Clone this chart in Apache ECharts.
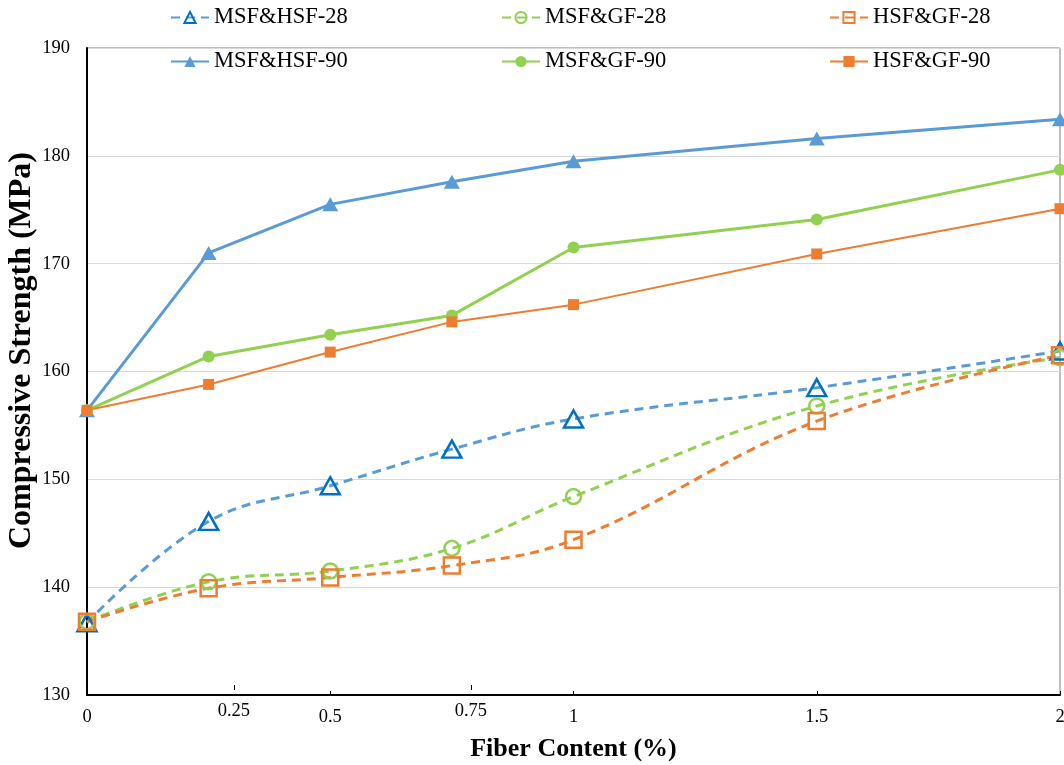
<!DOCTYPE html>
<html>
<head>
<meta charset="utf-8">
<script src="https://cdn.jsdelivr.net/npm/echarts@6/dist/echarts.min.js"></script>
<style>html,body{margin:0;padding:0;background:#fff}#c{width:1064px;height:765px}</style>
</head>
<body>
<div id="c"></div>
<script>
// ---- data ----
const fiberContent = [0, 0.25, 0.5, 0.75, 1, 1.5, 2];
const msfHsf28 = [136.7, 146.1, 149.4, 152.8, 155.6, 158.5, 161.9];
const msfGf28  = [136.8, 140.5, 141.5, 143.6, 148.4, 156.8, 161.3];
const hsfGf28  = [136.8, 139.9, 140.9, 142.0, 144.4, 155.4, 161.5];
const msfHsf90 = [156.4, 171.0, 175.5, 177.6, 179.5, 181.6, 183.4];
const msfGf90  = [156.4, 161.4, 163.4, 165.2, 171.5, 174.1, 178.7];
const hsfGf90  = [156.4, 158.8, 161.8, 164.6, 166.2, 170.9, 175.1];
const seriesNames = ['MSF&HSF-28', 'MSF&GF-28', 'HSF&GF-28', 'MSF&HSF-90', 'MSF&GF-90', 'HSF&GF-90'];
const extraTickLabels = ['0.25', '0.75'];

const FONT = '"Liberation Serif", "Times New Roman", serif';
const BLUE = '#5B9BD5', DBLUE = '#0070C0', GREEN = '#92D050', ORANGE = '#ED7D31';

function pts(arr) { return fiberContent.map((x, i) => [x, arr[i]]); }

function dashed(name, arr, color, borderColor, symbol, size) {
  return {
    name, type: 'line', data: pts(arr), smooth: 0.4,
    symbol, symbolSize: size,
    lineStyle: { color, width: 3, type: [9, 6] },
    itemStyle: { color: 'rgba(255,255,255,0)', borderColor, borderWidth: 2.5 },
    emphasis: { disabled: true }, z: 2
  };
}
function solid(name, arr, color, symbol, size, width) {
  return {
    name, type: 'line', data: pts(arr),
    symbol, symbolSize: size,
    lineStyle: { color, width },
    itemStyle: { color, borderWidth: 0 },
    emphasis: { disabled: true }, z: 3
  };
}

const series = [
  dashed(seriesNames[0], msfHsf28, BLUE, DBLUE, 'triangle', [19, 17]),
  dashed(seriesNames[1], msfGf28, GREEN, GREEN, 'circle', 15),
  dashed(seriesNames[2], hsfGf28, ORANGE, ORANGE, 'rect', 16),
  solid(seriesNames[3], msfHsf90, BLUE, 'triangle', [16, 14], 3),
  solid(seriesNames[4], msfGf90, GREEN, 'circle', 12, 3),
  solid(seriesNames[5], hsfGf90, ORANGE, 'rect', 11, 2)
];

const colLeft = [170, 501, 829];
const rowTop = [6, 50];
const legends = seriesNames.map((n, i) => ({
  data: [n], left: colLeft[i % 3], top: rowTop[Math.floor(i / 3)],
  padding: 0, itemWidth: 38, itemHeight: 14, selectedMode: false,
  textStyle: { fontFamily: FONT, fontSize: 22.5, color: '#000' }
}));

const chart = echarts.init(document.getElementById('c'));
chart.setOption({
  animation: false,
  backgroundColor: '#fff',
  legend: legends,
  grid: { left: 87, right: 4, top: 48, bottom: 70, outerBoundsMode: 'none', containLabel: false,
          show: true, borderColor: '#7F7F7F', borderWidth: 1 },
  xAxis: [{
    type: 'value', min: 0, max: 2, interval: 0.5,
    name: 'Fiber Content (%)', nameLocation: 'middle', nameGap: 41, nameMoveOverlap: false,
    nameTextStyle: { fontFamily: FONT, fontSize: 26, fontWeight: 'bold', color: '#000' },
    axisLine: { lineStyle: { color: '#000', width: 2 } },
    axisTick: { inside: true, length: 4, lineStyle: { color: '#000' } },
    axisLabel: { margin: 13, fontFamily: FONT, fontSize: 18.5, color: '#000' },
    splitLine: { show: false }
  }, {
    type: 'value', min: 0, max: 2, position: 'bottom', offset: -5,
    axisLine: { show: false },
    axisTick: { inside: true, length: 5, customValues: [0.302, 0.789], lineStyle: { color: '#000' } },
    axisLabel: { customValues: [0.302, 0.789], margin: 12, fontFamily: FONT, fontSize: 18.5, color: '#000',
      formatter: v => extraTickLabels[v < 0.5 ? 0 : 1] },
    splitLine: { show: false }
  }],
  yAxis: {
    type: 'value', min: 130, max: 190, interval: 10,
    name: 'Compressive Strength (MPa)', nameLocation: 'middle', nameGap: 49, nameMoveOverlap: false,
    nameTextStyle: { fontFamily: FONT, fontSize: 32, fontWeight: 'bold', color: '#000', padding: [0, 0, 0, 42] },
    axisLine: { show: true, lineStyle: { color: '#000', width: 2 } },
    axisTick: { show: false },
    axisLabel: { margin: 17, fontFamily: FONT, fontSize: 18.5, color: '#000' },
    splitLine: { lineStyle: { color: '#D9D9D9', width: 1 } }
  },
  series
});
</script>
</body>
</html>
